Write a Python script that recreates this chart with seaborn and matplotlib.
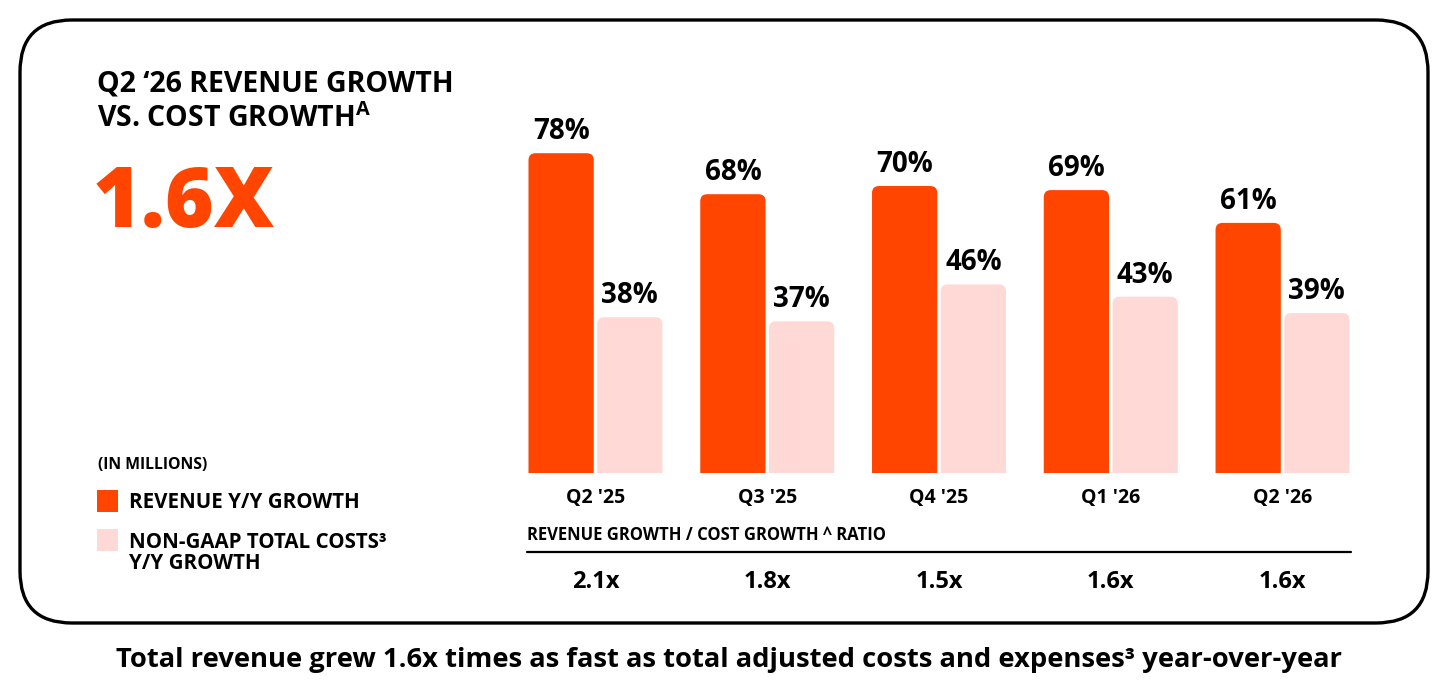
import matplotlib
matplotlib.use("Agg")
import matplotlib.pyplot as plt
import seaborn as sns
import pandas as pd
from matplotlib.patches import FancyBboxPatch, Rectangle
from matplotlib.transforms import blended_transform_factory

# Chart data
quarters = ["Q2 '25", "Q3 '25", "Q4 '25", "Q1 '26", "Q2 '26"]
revenue_growth = [78, 68, 70, 69, 61]
cost_growth = [38, 37, 46, 43, 39]
ratios = ["2.1x", "1.8x", "1.5x", "1.6x", "1.6x"]
series_names = ["REVENUE Y/Y GROWTH", "NON-GAAP TOTAL COSTS³\nY/Y GROWTH"]
headline = "1.6X"

ORANGE = "#FF4500"
PINK = "#FFD9D6"
FONT = "Open Sans"

sns.set_theme(style="white")
plt.rcParams["font.family"] = [FONT, "DejaVu Sans"]
plt.rcParams["text.color"] = "black"
plt.rcParams["xtick.color"] = "black"
plt.rcParams["mathtext.fontset"] = "custom"
plt.rcParams["mathtext.rm"] = f"{FONT}:bold"

df = pd.DataFrame({
    "quarter": quarters * 2,
    "series": [series_names[0]] * len(quarters) + [series_names[1]] * len(quarters),
    "value": revenue_growth + cost_growth,
})

W, H = 1456, 698
fig = plt.figure(figsize=(W / 100, H / 100), dpi=100)

# full-figure canvas in pixel coordinates (y down)
canvas = fig.add_axes([0, 0, 1, 1])
canvas.set_xlim(0, W)
canvas.set_ylim(H, 0)
canvas.axis("off")

# rounded frame
canvas.add_patch(FancyBboxPatch((20, 20), 1408, 603,
                                boxstyle="round,pad=0,rounding_size=52",
                                fill=False, lw=2.4, ec="black"))

# bar axes
ax_left, ax_right, base_y, ax_h = 509.6, 1368.4, 473, 328
ax = fig.add_axes([ax_left / W, (H - base_y) / H, (ax_right - ax_left) / W, ax_h / H])
ax.patch.set_alpha(0)

sns.barplot(data=df, x="quarter", y="value", hue="series",
            palette=[ORANGE, PINK], saturation=1, width=0.8, gap=0.05,
            legend=False, ax=ax)
ax.set_xlim(-0.5, len(quarters) - 0.5)
ax.set_ylim(0, 80)
sns.despine(ax=ax, left=True, bottom=True)
ax.set_yticks([])
ax.set_xlabel("")
ax.set_ylabel("")
ax.tick_params(axis="x", length=0, pad=11, labelsize=14)
for lbl in ax.get_xticklabels():
    lbl.set_fontweight("bold")

# swap plain rectangles for bars with rounded tops
px_x = ax.bbox.width / len(quarters)
px_y = ax.bbox.height / 80
r = 7 / px_x
for cont in ax.containers:
    for rect in cont:
        x, w, h = rect.get_x(), rect.get_width(), rect.get_height()
        ax.add_patch(FancyBboxPatch((x, -4), w, h + 4,
                                    boxstyle=f"round,pad=0,rounding_size={r}",
                                    mutation_aspect=px_x / px_y,
                                    fc=rect.get_facecolor(), ec="none"))
        rect.set_visible(False)
    ax.bar_label(cont, fmt="{:.0f}%", padding=5, fontsize=20,
                 fontweight="bold", clip_on=False)

# left column text
canvas.text(97, 84, "Q2 ‘26 REVENUE GROWTH", fontsize=20.5, fontweight="bold", va="center")
canvas.text(97, 119, r"VS. COST GROWTH$\mathregular{^A}$", fontsize=20.5, fontweight="bold", va="center")
canvas.text(93, 205, headline, fontsize=60, fontweight="heavy", color=ORANGE, va="center")

canvas.text(98, 465, "(IN MILLIONS)", fontsize=11.3, fontweight="bold", va="center")
canvas.add_patch(Rectangle((97, 490), 21, 22, fc=ORANGE, ec="none"))
canvas.add_patch(Rectangle((97, 529), 21, 22, fc=PINK, ec="none"))
canvas.text(129, 502, series_names[0], fontsize=14.8, fontweight="bold", va="center")
canvas.text(129, 553, series_names[1], fontsize=14.8, fontweight="bold", va="center",
            linespacing=1.05)

# ratio row
canvas.text(527, 535, "REVENUE GROWTH / COST GROWTH ^ RATIO", fontsize=12,
            fontweight="bold", va="center")
canvas.plot([527, 1351], [552, 552], color="black", lw=1.6)
trans = blended_transform_factory(ax.transData, canvas.transData)
for i, val in enumerate(ratios):
    canvas.text(i, 582, val, transform=trans, ha="center", va="center",
                fontsize=17, fontweight="bold")

# caption
canvas.text(W / 2 + 1, 660,
            "Total revenue grew 1.6x times as fast as total adjusted costs and expenses³ year-over-year",
            ha="center", va="center", fontsize=19.7, fontweight="bold")

fig.savefig("out.png", dpi=100)
